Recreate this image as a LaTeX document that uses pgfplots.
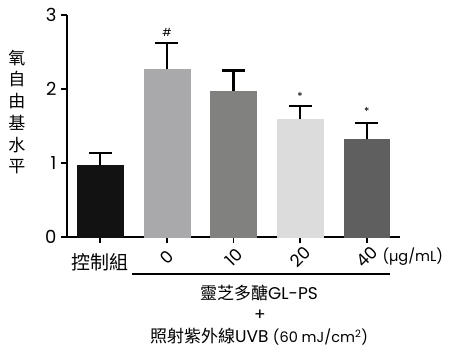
\documentclass[border=0pt]{standalone}
\usepackage{fontspec}
\setmainfont{Poppins}
\newfontfamily\cjk{Noto Sans CJK TC}
\usepackage{graphicx}
\usepackage{pgfplots}
\pgfplotsset{compat=1.18}
\definecolor{c0}{HTML}{121212}
\definecolor{c1}{HTML}{A9A9AB}
\definecolor{c2}{HTML}{818180}
\definecolor{c3}{HTML}{DCDCDC}
\definecolor{c4}{HTML}{5F5F5F}
\begin{document}
\begin{tikzpicture}
\useasboundingbox (-67bp,-113bp) rectangle (383bp,237bp);
\begin{axis}[
  scale only axis, width=333bp, height=222bp,
  xmin=-0.5, xmax=4.5, ymin=0, ymax=3,
  axis x line=bottom, axis y line=left,
  axis line style={line width=1.8bp, -},
  xtick={0,1,2,3,4},
  xticklabels={{\raisebox{-5bp}[\height][\depth]{\fontsize{19bp}{19bp}\selectfont\cjk 控制組}},
    \rotatebox{45}{0},\rotatebox{45}{10},\rotatebox{45}{20},\rotatebox{45}{40}},
  xticklabel style={anchor=center, yshift=-14bp, font=\fontsize{17bp}{17bp}\selectfont},
  ytick={0,1,2,3},
  tick align=outside, major tick length=6bp,
  tick style={line width=1.8bp, black},
  yticklabel style={font=\fontsize{18bp}{18bp}\selectfont, xshift=-1bp},
  /pgf/number format/assume math mode=true,
  ybar, bar width=0.69,
  error bars/y dir=plus, error bars/y explicit,
  error bars/error bar style={line width=2.2bp, draw=black},
  error bars/error mark options={rotate=90, mark size=11.5bp, line width=2.2bp, draw=black},
  clip=false,
]
\addplot[fill=c0, draw=c0, bar shift=0pt] coordinates {(0,0.97) +- (0,0.16)};
\addplot[fill=c1, draw=c1, bar shift=0pt] coordinates {(1,2.27) +- (0,0.35)};
\addplot[fill=c2, draw=c2, bar shift=0pt] coordinates {(2,1.97) +- (0,0.28)};
\addplot[fill=c3, draw=c3, bar shift=0pt] coordinates {(3,1.59) +- (0,0.18)};
\addplot[fill=c4, draw=c4, bar shift=0pt] coordinates {(4,1.32) +- (0,0.22)};
\node[font=\fontsize{11bp}{11bp}\selectfont] at (axis cs:1,2.77) {\#};
\node[font=\fontsize{11bp}{11bp}\selectfont] at (axis cs:3,1.90) {*};
\node[font=\fontsize{11bp}{11bp}\selectfont] at (axis cs:4,1.70) {*};
\end{axis}
\node[font=\fontsize{14.5bp}{14.5bp}\selectfont, anchor=west] at (312bp,-20bp) {(µg/mL)};
\draw[line width=2bp] (65bp,-37bp) -- (323bp,-37bp);
\node[font=\fontsize{17bp}{17bp}\selectfont] at (192bp,-56bp) {{\cjk 靈芝多醣}GL-PS};
\node[font=\fontsize{17bp}{17bp}\selectfont] at (193bp,-78bp) {+};
\node[font=\fontsize{17bp}{17bp}\selectfont] at (192bp,-100bp) {{\cjk 照射紫外線}UVB {\fontsize{14.5bp}{14.5bp}\selectfont (60 mJ/cm\textsuperscript{2})}};
\node[font=\fontsize{17bp}{21.7bp}\selectfont\cjk, align=center] at (-50bp,125bp) {氧\\自\\由\\基\\水\\平};
\end{tikzpicture}
\end{document}
